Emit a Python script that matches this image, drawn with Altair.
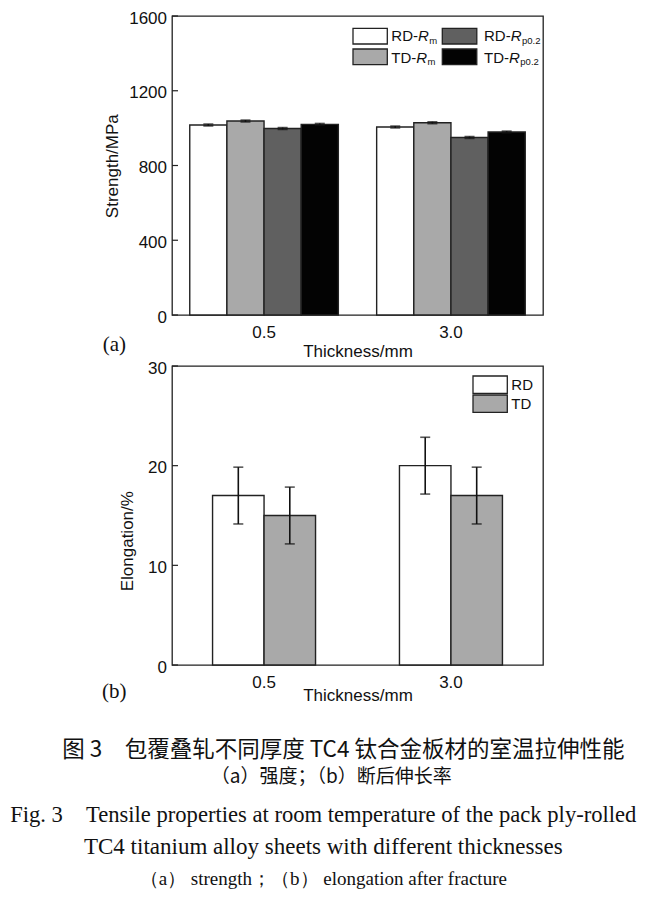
import altair as alt
import pandas as pd

# ---------------- data ----------------
thickness = ["0.5", "3.0"]

strength_series = ["RD-Rm", "TD-Rm", "RD-Rp0.2", "TD-Rp0.2"]
strength_values = {
    "RD-Rm": [1017, 1006],
    "TD-Rm": [1038, 1029],
    "RD-Rp0.2": [998, 950],
    "TD-Rp0.2": [1020, 979],
}
strength_errors = {
    "RD-Rm": [5, 5],
    "TD-Rm": [5, 5],
    "RD-Rp0.2": [5, 5],
    "TD-Rp0.2": [5, 5],
}
strength_colors = ["#ffffff", "#a9a9a9", "#606060", "#030303"]
strength_ticks = [0, 400, 800, 1200, 1600]

elong_series = ["RD", "TD"]
elong_values = {"RD": [17, 20], "TD": [15, 17]}
elong_errors = {"RD": [2.85, 2.85], "TD": [2.85, 2.85]}
elong_colors = ["#ffffff", "#a9a9a9"]
elong_ticks = [0, 10, 20, 30]

# legend pieces: (prefix, italic letter, subscript)
strength_legend_parts = {
    "RD-Rm": ("RD-", "R", "m"),
    "TD-Rm": ("TD-", "R", "m"),
    "RD-Rp0.2": ("RD-", "R", "p0.2"),
    "TD-Rp0.2": ("TD-", "R", "p0.2"),
}

caption_cn = ["图 3　包覆叠轧不同厚度 TC4 钛合金板材的室温拉伸性能", "（a）强度；（b）断后伸长率"]
caption_en = [
    "Fig. 3　Tensile properties at room temperature of the pack ply-rolled",
    "TC4 titanium alloy sheets with different thicknesses",
    "（a） strength；（b） elongation after fracture",
]

# ---------------- styling ----------------
SANS = "Liberation Sans"
SERIF = "Liberation Serif"
CJK = "Noto Sans CJK SC"
INK = "#111111"
W, H = 371, 299


def long_df(series, values, errors):
    rows = []
    for s in series:
        for i, t in enumerate(thickness):
            v = values[s][i]
            e = errors[s][i]
            rows.append({"thickness": t, "series": s, "value": v, "lo": v - e, "hi": v + e})
    return pd.DataFrame(rows)


one = pd.DataFrame({"k": [0]})

# Arial-like advance widths (em)
ADV = {"R": 0.722, "D": 0.722, "T": 0.611, "-": 0.333}


def text_width(s, size):
    return sum(ADV.get(c, 0.556) for c in s) * size


def panel(df, series, colors, ticks, ymax, ytitle, title_x, title_y, xtitle_y,
          pad_inner, pad_outer, extra_layers, tag):
    x_enc = alt.X(
        "thickness:N", sort=thickness,
        scale=alt.Scale(domain=thickness, paddingInner=pad_inner, paddingOuter=pad_outer),
        axis=alt.Axis(title="Thickness/mm", labelAngle=0, ticks=False, tickSize=0, domain=False,
                      labelFont=SANS, labelFontSize=17, labelColor=INK, labelPadding=9,
                      titleFont=SANS, titleFontSize=17, titleColor=INK, titleFontWeight="normal",
                      titleY=xtitle_y, titleBaseline="middle"),
    )
    xo_enc = alt.XOffset("series:N", sort=series,
                         scale=alt.Scale(domain=series, paddingInner=0, paddingOuter=0))
    y_enc = alt.Y(
        "value:Q", scale=alt.Scale(domain=[0, ymax], nice=False, zero=True),
        axis=alt.Axis(values=ticks, format="d", ticks=False, tickSize=0, domain=False, grid=False,
                      labelFont=SANS, labelFontSize=17, labelColor=INK, labelPadding=5.5,
                      labelOffset=2.0,
                      title=ytitle, titleFont=SANS, titleFontSize=17, titleColor=INK,
                      titleFontWeight="normal", titleX=title_x, titleY=title_y,
                      titleBaseline="middle"),
    )
    base = alt.Chart(df)
    bars = base.mark_bar(stroke="#222222", strokeWidth=1.4).encode(
        x=x_enc, xOffset=xo_enc, y=y_enc,
        color=alt.Color("series:N", sort=series, legend=None,
                        scale=alt.Scale(domain=series, range=colors)),
    )
    stem = base.mark_rule(color="#111111", strokeWidth=1.6).encode(
        x=x_enc, xOffset=xo_enc, y=alt.Y("lo:Q"), y2="hi:Q")
    cap_hi = base.mark_tick(color="#111111", thickness=1.6, size=10).encode(
        x=x_enc, xOffset=xo_enc, y=alt.Y("hi:Q"))
    cap_lo = base.mark_tick(color="#111111", thickness=1.6, size=10).encode(
        x=x_enc, xOffset=xo_enc, y=alt.Y("lo:Q"))
    tick_df = pd.DataFrame({"value": ticks})
    inward = alt.Chart(tick_df).mark_rule(color="#222222", strokeWidth=1.2).encode(
        y=y_enc, x=alt.value(0), x2=alt.value(6))
    tag_text = alt.Chart(one).mark_text(font=SERIF, fontSize=21, color=INK,
                                        align="center", baseline="middle").encode(
        x=alt.value(-57.7), y=alt.value(tag[1]), text=alt.value(tag[0]))
    # tiny white marks that fix the outer bounds of the layout (left / top)
    anchor = alt.Chart(one).mark_rect(fill="white").encode(
        x=alt.value(-162.7), x2=alt.value(-161.7), y=alt.value(-6.3), y2=alt.value(-5.3))
    layers = [anchor, bars, stem, cap_hi, cap_lo, inward, tag_text] + extra_layers
    return alt.layer(*layers).properties(width=W, height=H)


# ---------- legend for (a) ----------
leg_a = []
box_x = [(181, 215.3), (270.3, 304.8)]
box_y = [(12.4, 28.0), (33.0, 48.7)]
text_x = [219.3, 312.0]
text_y = [20.2, 41.6]
for idx, s in enumerate(strength_series):
    col = 0 if "Rm" in s else 1
    row = 0 if s.startswith("RD") else 1
    leg_a.append(alt.Chart(one).mark_rect(stroke="#222222", strokeWidth=1.3,
                                          fill=strength_colors[idx]).encode(
        x=alt.value(box_x[col][0]), x2=alt.value(box_x[col][1]),
        y=alt.value(box_y[row][0]), y2=alt.value(box_y[row][1])))
    pre, it, sub = strength_legend_parts[s]
    x0 = text_x[col]
    leg_a.append(alt.Chart(one).mark_text(font=SANS, fontSize=15, color=INK, align="left",
                                          baseline="middle").encode(
        x=alt.value(x0), y=alt.value(text_y[row]), text=alt.value(pre)))
    x1 = x0 + text_width(pre, 15)
    leg_a.append(alt.Chart(one).mark_text(font=SANS, fontSize=15, fontStyle="italic", color=INK,
                                          align="left", baseline="middle").encode(
        x=alt.value(x1), y=alt.value(text_y[row]), text=alt.value(it)))
    x2 = x1 + text_width(it, 15) + 0.5
    leg_a.append(alt.Chart(one).mark_text(font=SANS, fontSize=9.5, color=INK, align="left",
                                          baseline="middle").encode(
        x=alt.value(x2), y=alt.value(text_y[row] + 4.5), text=alt.value(sub)))

# ---------- legend for (b) ----------
leg_b = []
bbox_y = [(10.0, 27.4), (29.0, 46.4)]
btext_y = [18.7, 37.7]
for idx, s in enumerate(elong_series):
    leg_b.append(alt.Chart(one).mark_rect(stroke="#222222", strokeWidth=1.3,
                                          fill=elong_colors[idx]).encode(
        x=alt.value(301), x2=alt.value(335.3),
        y=alt.value(bbox_y[idx][0]), y2=alt.value(bbox_y[idx][1])))
    leg_b.append(alt.Chart(one).mark_text(font=SANS, fontSize=15, color=INK, align="left",
                                          baseline="middle").encode(
        x=alt.value(339.3), y=alt.value(btext_y[idx]), text=alt.value(s)))

# ---------- caption (drawn under panel b) ----------
cap_layers = []
cap_specs = [
    (caption_cn[0], CJK, 22.5, 171.3, 383.7),
    (caption_cn[1], CJK, 19, 159.3, 410.7),
    (caption_en[0], SERIF, 22.6, 151.3, 448.7),
    (caption_en[1], SERIF, 23, 151.3, 480.7),
    (caption_en[2], SERIF, 19, 151.3, 512.7),
]
for txt, fnt, size, xx, yy in cap_specs:
    cap_layers.append(alt.Chart(one).mark_text(font=fnt, fontSize=size, color=INK,
                                               align="center", baseline="middle").encode(
        x=alt.value(xx), y=alt.value(yy), text=alt.value(txt)))

df_s = long_df(strength_series, strength_values, strength_errors)
df_e = long_df(elong_series, elong_values, elong_errors)

top = panel(df_s, strength_series, strength_colors, strength_ticks, 1600, "Strength/MPa",
            -59.7, 149.7, 36.7, 0.205, 0.095, leg_a, ("(a)", 328.7))
bottom = panel(df_e, elong_series, elong_colors, elong_ticks, 30, "Elongation/%",
               -44.7, 174.7, 30.7, 0.449, 0.217, leg_b + cap_layers, ("(b)", 326.0))

chart = alt.vconcat(top, bottom, spacing=-3).resolve_scale(
    xOffset="independent", color="independent", x="independent", y="independent"
).properties(
    padding={"left": 0, "top": 0, "right": 0, "bottom": 0}, background="white"
).configure_view(stroke="#222222", strokeWidth=1.3)

chart.save("out.html", embed_options={"renderer": "svg", "actions": False})
